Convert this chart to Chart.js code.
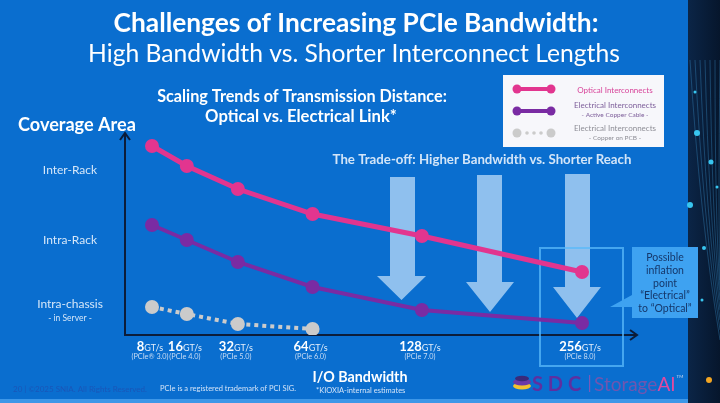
<!DOCTYPE html>
<html lang="en">
<head>
  <meta charset="UTF-8" />
  <title>Challenges of Increasing PCIe Bandwidth</title>
  <script src="https://cdn.jsdelivr.net/npm/chart.js"></script>
  <style>
    html, body { margin: 0; padding: 0; background: #0a6ecf; overflow: hidden; }
    #wrap { width: 720px; height: 403px; }
  </style>
</head>
<body>
  <div id="wrap"><canvas id="chart" width="720" height="403"></canvas></div>

  <script>
    // PCIe generations (x) and coverage reach (y, 0..10 qualitative)
    const bandwidth = [8, 16, 32, 64, 128, 256];
    const bandwidthLabels = ['8', '16', '32', '64', '128', '256'];
    const pcieGen = ['(PCIe® 3.0)', '(PCIe 4.0)', '(PCIe 5.0)', '(PCIe 6.0)', '(PCIe 7.0)', '(PCIe 8.0)'];
    const optical = [9.45, 8.45, 7.3, 6.05, 4.95, 3.15];
    const copperCable = [5.5, 4.75, 3.65, 2.4, 1.25, 0.6];
    const copperPcb = [1.4, 1.05, 0.55, 0.3];
    const coverageLevels = [8.25, 4.75, 1.55];
    const coverageNames = ['Inter-Rack', 'Intra-Rack', 'Intra-chassis'];

    const PINK = '#e2358f';
    const PURPLE = '#7a2ba3';
    const GREY = '#cbcbcb';
    const FONT = 'Lato, "Open Sans", sans-serif';

    // the slide spaces the generations roughly on a power scale
    function bwPos(bw) { return Math.pow(bw, 0.55); }

    function series(values) {
      return values.map((v, i) => ({ x: bwPos(bandwidth[i]), y: v }));
    }

    function fitText(ctx, text, weight, width, x, y, align) {
      ctx.font = weight + ' 20px ' + FONT;
      const size = 20 * width / ctx.measureText(text).width;
      ctx.font = weight + ' ' + size.toFixed(2) + 'px ' + FONT;
      ctx.textAlign = align || 'left';
      ctx.fillText(text, x, y);
    }

    function downArrow(ctx, x1, x2, top, headY, hx1, hx2, tip) {
      ctx.beginPath();
      ctx.moveTo(x1, top);
      ctx.lineTo(x2, top);
      ctx.lineTo(x2, headY);
      ctx.lineTo(hx2, headY);
      ctx.lineTo((hx1 + hx2) / 2, tip);
      ctx.lineTo(hx1, headY);
      ctx.lineTo(x1, headY);
      ctx.closePath();
      ctx.fill();
    }

    const slidePlugin = {
      id: 'slide',
      beforeDraw(chart) {
        const ctx = chart.ctx;
        ctx.save();
        ctx.fillStyle = '#0a6ecf';
        ctx.fillRect(0, 0, 720, 403);
        ctx.fillStyle = '#3d97e8';
        ctx.fillRect(0, 399, 688, 4);
        // dark fibre strip on the right
        const g = ctx.createLinearGradient(688, 0, 720, 0);
        g.addColorStop(0, '#0b2547');
        g.addColorStop(1, '#06162c');
        ctx.fillStyle = g;
        ctx.fillRect(688, 0, 32, 403);
        ctx.strokeStyle = 'rgba(60,150,210,0.35)';
        ctx.lineWidth = 1;
        for (let i = 0; i < 7; i++) {
          ctx.beginPath();
          ctx.moveTo(690 + i * 5, 60);
          ctx.quadraticCurveTo(700 + i * 3, 220, 720, 340 - i * 10);
          ctx.stroke();
        }
        ctx.fillStyle = '#38c6f0';
        [[695, 92, 1.5], [697, 133, 3], [711, 162, 2.5], [690, 205, 3], [704, 248, 2], [717, 187, 1.5], [702, 300, 1.5]].forEach(d => {
          ctx.beginPath(); ctx.arc(d[0], d[1], d[2], 0, Math.PI * 2); ctx.fill();
        });
        ctx.fillStyle = '#f3a623';
        ctx.beginPath(); ctx.arc(709, 380, 3, 0, Math.PI * 2); ctx.fill();
        ctx.restore();
      },
      beforeDatasetsDraw(chart) {
        const ctx = chart.ctx;
        const a = chart.chartArea;
        ctx.save();
        // trade-off arrows
        ctx.fillStyle = 'rgba(196,224,250,0.72)';
        downArrow(ctx, 390, 415, 177, 276, 377, 426, 300);
        downArrow(ctx, 477, 502, 175, 282, 466, 514, 312);
        downArrow(ctx, 565, 590, 174, 287, 553, 601, 318);

        // axes with arrow heads
        ctx.strokeStyle = '#0c1d3a';
        ctx.fillStyle = '#0c1d3a';
        ctx.lineWidth = 2;
        ctx.beginPath();
        ctx.moveTo(a.left, 134);
        ctx.lineTo(a.left, a.bottom);
        ctx.lineTo(a.right - 1, a.bottom);
        ctx.stroke();
        ctx.beginPath();
        ctx.moveTo(a.left - 5, 140); ctx.lineTo(a.left, 133); ctx.lineTo(a.left + 5, 140);
        ctx.stroke();
        ctx.beginPath();
        ctx.moveTo(a.right - 7, a.bottom - 5); ctx.lineTo(a.right, a.bottom); ctx.lineTo(a.right - 7, a.bottom + 5);
        ctx.stroke();

        // highlight frame around 256 GT/s
        ctx.strokeStyle = 'rgba(90,185,250,0.75)';
        ctx.lineWidth = 2;
        ctx.strokeRect(540, 248, 83, 118);
        ctx.restore();
      },
      afterDatasetsDraw(chart) {
        const ctx = chart.ctx;
        const xs = chart.scales.x;
        const ys = chart.scales.y;
        ctx.save();
        ctx.textBaseline = 'middle';

        // headings
        ctx.fillStyle = '#ffffff';
        fitText(ctx, 'Challenges of Increasing PCIe Bandwidth:', 'bold', 485, 356, 24, 'center');
        fitText(ctx, 'High Bandwidth vs. Shorter Interconnect Lengths', 'normal', 532, 354, 54, 'center');
        fitText(ctx, 'Scaling Trends of Transmission Distance:', 'bold', 290, 302, 97, 'center');
        fitText(ctx, 'Optical vs. Electrical Link*', 'bold', 192, 301, 117, 'center');
        fitText(ctx, 'Coverage Area', 'bold', 118, 18, 125, 'left');
        fitText(ctx, 'I/O Bandwidth', 'bold', 95, 360, 377, 'center');
        ctx.fillStyle = '#d3e5f8';
        fitText(ctx, 'The Trade-off: Higher Bandwidth vs. Shorter Reach', 'bold', 299, 482, 160, 'center');

        // coverage categories on the y axis
        ctx.fillStyle = '#d6e7f9';
        ctx.textAlign = 'center';
        coverageNames.forEach((name, i) => {
          ctx.font = '12px ' + FONT;
          ctx.fillText(name, 70, ys.getPixelForValue(coverageLevels[i]));
        });
        ctx.font = '8.5px ' + FONT;
        ctx.fillText('- in Server -', 70, ys.getPixelForValue(coverageLevels[2]) + 14);

        // bandwidth tick labels
        bandwidth.forEach((bw, i) => {
          const x = xs.getPixelForValue(bwPos(bw)) - 2;
          ctx.font = 'bold 13px ' + FONT;
          const w1 = ctx.measureText(bandwidthLabels[i]).width;
          ctx.font = '9px ' + FONT;
          const w2 = ctx.measureText('GT/s').width;
          const left = x - (w1 + w2) / 2;
          ctx.textAlign = 'left';
          ctx.textBaseline = 'alphabetic';
          ctx.fillStyle = '#ffffff';
          ctx.font = 'bold 13px ' + FONT;
          ctx.fillText(bandwidthLabels[i], left, 351);
          ctx.fillStyle = '#e3eefb';
          ctx.font = '9px ' + FONT;
          ctx.fillText('GT/s', left + w1, 351);
          ctx.textAlign = 'center';
          ctx.textBaseline = 'middle';
          ctx.font = '7.3px ' + FONT;
          ctx.fillStyle = '#c9ddf5';
          ctx.fillText(pcieGen[i], x, 356.5);
        });

        // legend box
        ctx.fillStyle = '#f7f7fb';
        ctx.fillRect(503, 75, 161, 72);
        const rows = [
          { y: 89, color: PINK, dotted: false },
          { y: 111, color: PURPLE, dotted: false },
          { y: 133, color: GREY, dotted: true }
        ];
        rows.forEach(r => {
          ctx.fillStyle = r.color;
          ctx.strokeStyle = r.color;
          if (r.dotted) {
            [527, 534, 541].forEach(d => {
              ctx.beginPath(); ctx.arc(d, r.y, 1.8, 0, Math.PI * 2); ctx.fill();
            });
          } else {
            ctx.lineWidth = 4;
            ctx.beginPath(); ctx.moveTo(517, r.y); ctx.lineTo(551, r.y); ctx.stroke();
          }
          [517, 551].forEach(d => {
            ctx.beginPath(); ctx.arc(d, r.y, 4.5, 0, Math.PI * 2); ctx.fill();
          });
        });
        ctx.textAlign = 'center';
        ctx.font = '8px ' + FONT;
        ctx.fillStyle = '#d8449a';
        ctx.fillText('Optical Interconnects', 615, 90);
        ctx.fillStyle = '#7d5e9a';
        ctx.fillText('Electrical Interconnects', 615, 105);
        ctx.font = '6.5px ' + FONT;
        ctx.fillText('- Active Copper Cable -', 615, 115);
        ctx.fillStyle = '#8e8e96';
        ctx.font = '8px ' + FONT;
        ctx.fillText('Electrical Interconnects', 615, 128);
        ctx.font = '6.5px ' + FONT;
        ctx.fillText('- Copper on PCB -', 615, 138);

        // call-out bubble
        ctx.fillStyle = '#3ea2f1';
        ctx.beginPath();
        ctx.moveTo(632, 247);
        ctx.lineTo(698, 247);
        ctx.lineTo(698, 318);
        ctx.lineTo(632, 318);
        ctx.lineTo(632, 307);
        ctx.lineTo(610, 307);
        ctx.lineTo(632, 295);
        ctx.closePath();
        ctx.fill();
        ctx.fillStyle = '#15376a';
        ctx.font = '10.5px ' + FONT;
        ['Possible', 'inflation', 'point', '\u201cElectrical\u201d', 'to \u201cOptical\u201d'].forEach((t, i) => {
          ctx.fillText(t, 665, 258 + i * 12.7);
        });

        // footer
        ctx.textAlign = 'left';
        ctx.font = '8px ' + FONT;
        ctx.fillStyle = '#1a56b8';
        ctx.fillText('20 | \u00a92025 SNIA. All Rights Reserved.', 13, 389);
        ctx.fillStyle = '#d3e3f7';
        ctx.font = '7.5px ' + FONT;
        ctx.fillText('PCIe is a registered trademark of PCI SIG.', 160, 389);
        ctx.fillText('*KIOXIA-internal estimates', 316, 391);

        // SDC | StorageAI logo
        ctx.fillStyle = '#f2c230';
        ctx.beginPath(); ctx.ellipse(522, 386, 9, 3.5, 0, 0, Math.PI * 2); ctx.fill();
        ctx.fillStyle = '#6b3aa8';
        ctx.beginPath(); ctx.ellipse(522, 382, 9, 3.5, 0, 0, Math.PI * 2); ctx.fill();
        ctx.fillStyle = '#3a2a7a';
        ctx.beginPath(); ctx.ellipse(522, 378.5, 7, 2.8, 0, 0, Math.PI * 2); ctx.fill();
        ctx.textBaseline = 'alphabetic';
        ctx.fillStyle = '#5f2fa0';
        ctx.font = 'bold 20px ' + FONT;
        ctx.fillText('S D C', 532, 391);
        ctx.fillStyle = '#7a5ab8';
        ctx.fillRect(589, 375, 1.2, 17);
        ctx.font = '19px ' + FONT;
        ctx.fillStyle = '#7056b0';
        ctx.fillText('Storage', 594, 391);
        const sw = ctx.measureText('Storage').width;
        ctx.fillStyle = '#e04aa0';
        ctx.fillText('AI', 594 + sw, 391);
        const aw = ctx.measureText('AI').width;
        ctx.font = '4.5px ' + FONT;
        ctx.fillStyle = '#c8d8f0';
        ctx.fillText('TM', 595 + sw + aw, 378);
        ctx.restore();
      }
    };

    const ctx = document.getElementById('chart').getContext('2d');
    new Chart(ctx, {
      type: 'line',
      data: {
        datasets: [
          {
            label: 'Optical Interconnects',
            data: series(optical),
            borderColor: PINK,
            backgroundColor: PINK,
            borderWidth: 5,
            pointRadius: 7,
            pointBorderWidth: 0,
            tension: 0
          },
          {
            label: 'Electrical Interconnects - Active Copper Cable -',
            data: series(copperCable),
            borderColor: PURPLE,
            backgroundColor: PURPLE,
            borderWidth: 4,
            pointRadius: 7,
            pointBorderWidth: 0,
            tension: 0
          },
          {
            label: 'Electrical Interconnects - Copper on PCB -',
            data: series(copperPcb),
            borderColor: GREY,
            backgroundColor: GREY,
            borderWidth: 4,
            borderDash: [4, 4],
            pointRadius: 7,
            pointBorderWidth: 0,
            tension: 0
          }
        ]
      },
      options: {
        responsive: false,
        animation: false,
        layout: { padding: { left: 125, right: 83, top: 135, bottom: 68 } },
        scales: {
          x: { type: 'linear', min: 2.01, max: 23.41, display: false },
          y: { min: 0, max: 10, display: false }
        },
        plugins: {
          legend: { display: false },
          tooltip: { enabled: false }
        }
      },
      plugins: [slidePlugin]
    });
  </script>
</body>
</html>
